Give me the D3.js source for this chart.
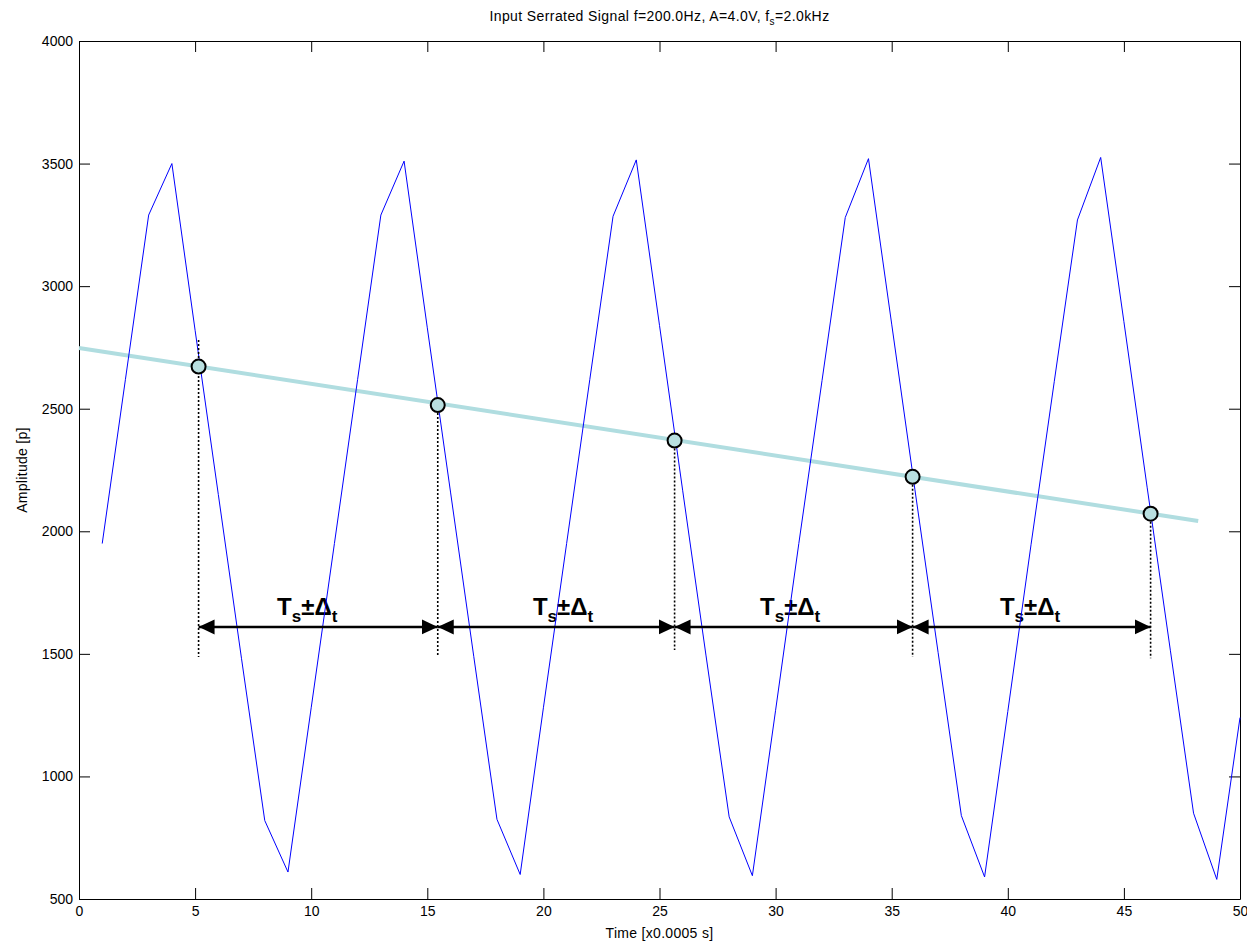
<!DOCTYPE html>
<html>
<head>
<meta charset="utf-8">
<script src="https://cdn.jsdelivr.net/npm/d3@7"></script>
<style>
  body { margin: 0; background: #fff; }
  svg { display: block; font-family: "Liberation Sans", Arial, sans-serif; }
</style>
</head>
<body>
<script>
// sampled serrated signal (sample index, amplitude)
const sampleIdx = [1, 2, 3, 4, 5, 6, 7, 8, 9, 10,
	11, 12, 13, 14, 15, 16, 17, 18, 19, 20,
	21, 22, 23, 24, 25, 26, 27, 28, 29, 30,
	31, 32, 33, 34, 35, 36, 37, 38, 39, 40,
	41, 42, 43, 44, 45, 46, 47, 48, 49, 50];
const amplitude = [1950, 2620, 3290, 3500, 2820, 2150, 1480, 820, 610, 1280,
	1950, 2620, 3290, 3510, 2830, 2160, 1490, 825, 600, 1280,
	1950, 2620, 3285, 3515, 2840, 2165, 1495, 835, 595, 1270,
	1950, 2615, 3280, 3520, 2845, 2170, 1505, 840, 590, 1265,
	1945, 2610, 3270, 3525, 2855, 2180, 1515, 850, 580, 1240];

// trend line through the crossings
const trendX = [0, 48.2];
const trendY = [2748, 2042];

// crossing points
const crossX = [5.15, 15.45, 25.65, 35.9, 46.15];
const crossY = [2672, 2515, 2370, 2222, 2072];

// dotted drop lines: top / bottom values
const dropTop = [2780, 2515, 2370, 2222, 2072];
const dropBottom = [1487, 1487, 1516, 1487, 1482];

// interval arrows
const arrowY = 1610;
const labelX = [8.53, 19.55, 29.33, 39.66];
const labelY = 1658;

const xTicks = [0, 5, 10, 15, 20, 25, 30, 35, 40, 45, 50];
const yTicks = [500, 1000, 1500, 2000, 2500, 3000, 3500, 4000];

function drawChart() {
	// plot box in the page
	let margin = { top: 41, right: 7, bottom: 47, left: 79 },
		width = 1247 - margin.left - margin.right,
		height = 946 - margin.top - margin.bottom;

	let x = d3.scaleLinear().domain([0, 50]).range([0, width]);
	let y = d3.scaleLinear().domain([500, 4000]).range([height, 0]);

	let svg = d3.select("body").append("svg")
		.attr("width", 1247)
		.attr("height", 946);

	let defs = svg.append("defs");
	defs.append("marker")
		.attr("id", "head")
		.attr("markerUnits", "userSpaceOnUse")
		.attr("viewBox", "0 -8 16 16")
		.attr("markerWidth", 16)
		.attr("markerHeight", 16)
		.attr("refX", 16)
		.attr("refY", 0)
		.attr("orient", "auto-start-reverse")
		.append("path")
		.attr("d", "M0,-7.5L16,0L0,7.5Z")
		.attr("fill", "#000");

	let g = svg.append("g")
		.attr("transform", "translate(" + margin.left + "," + margin.top + ")");

	// title
	let title = svg.append("text")
		.attr("x", margin.left + width / 2)
		.attr("y", 21)
		.attr("text-anchor", "middle")
		.style("font-size", "14px")
		.style("letter-spacing", "0.4px");
	title.append("tspan").text("Input Serrated Signal f=200.0Hz, A=4.0V, f");
	title.append("tspan").attr("dy", 4).style("font-size", "10px").text("s");
	title.append("tspan").attr("dy", -4).text("=2.0kHz");

	// axes, MATLAB style box with inward ticks
	let xAxis = g.append("g")
		.attr("transform", "translate(0," + height + ")")
		.call(d3.axisBottom(x).tickValues(xTicks).tickSize(-11).tickSizeOuter(0).tickPadding(7));
	let yAxis = g.append("g")
		.call(d3.axisLeft(y).tickValues(yTicks).tickFormat(d3.format("d")).tickSize(-11).tickSizeOuter(0).tickPadding(6));
	g.append("g")
		.call(d3.axisTop(x).tickValues(xTicks).tickFormat("").tickSize(-11).tickSizeOuter(0));
	g.append("g")
		.attr("transform", "translate(" + width + ",0)")
		.call(d3.axisRight(y).tickValues(yTicks).tickFormat("").tickSize(-11).tickSizeOuter(0));

	g.selectAll(".domain, .tick line").attr("stroke", "#000");
	g.selectAll(".tick text").style("font-size", "14px").attr("fill", "#000")
		.style("font-family", "'Liberation Sans', Arial, sans-serif");

	// axis labels
	svg.append("text")
		.attr("x", margin.left + width / 2)
		.attr("y", 938)
		.attr("text-anchor", "middle")
		.style("font-size", "14px")
		.style("letter-spacing", "0.3px")
		.text("Time [x0.0005 s]");
	svg.append("text")
		.attr("transform", "translate(27," + (margin.top + height / 2) + ") rotate(-90)")
		.attr("text-anchor", "middle")
		.style("font-size", "14px")
		.style("letter-spacing", "0.3px")
		.text("Amplitude [p]");

	// trend line
	let trend = trendX.map((d, i) => ({ t: d, v: trendY[i] }));
	g.append("path")
		.datum(trend)
		.attr("fill", "none")
		.attr("stroke", "#b0dde0")
		.attr("stroke-width", 4)
		.attr("d", d3.line().x((d) => x(d.t)).y((d) => y(d.v)));

	// interval labels
	labelX.forEach((lx) => {
		let t = g.append("text")
			.attr("x", x(lx))
			.attr("y", y(labelY))
			.style("font-size", "24px")
			.style("font-weight", "bold");
		t.append("tspan").text("T");
		t.append("tspan").attr("dy", 7).style("font-size", "17px").text("s");
		t.append("tspan").attr("dy", -7).text("±Δ");
		t.append("tspan").attr("dy", 7).style("font-size", "17px").text("t");
	});

	// signal
	let signal = sampleIdx.map((d, i) => ({ t: d, v: amplitude[i] }));
	g.append("path")
		.datum(signal)
		.attr("fill", "none")
		.attr("stroke", "#0000ff")
		.attr("stroke-width", 1)
		.attr("d", d3.line().x((d) => x(d.t)).y((d) => y(d.v)));

	// dotted drop lines
	g.selectAll(".drop")
		.data(crossX)
		.enter()
		.append("line")
		.attr("x1", (d) => x(d))
		.attr("x2", (d) => x(d))
		.attr("y1", (d, i) => y(dropTop[i]))
		.attr("y2", (d, i) => y(dropBottom[i]))
		.attr("stroke", "#000")
		.attr("stroke-width", 1.6)
		.attr("stroke-dasharray", "2,2");

	// double arrows between crossings
	for (let i = 0; i < crossX.length - 1; i++) {
		g.append("line")
			.attr("x1", x(crossX[i]))
			.attr("x2", x(crossX[i + 1]))
			.attr("y1", y(arrowY))
			.attr("y2", y(arrowY))
			.attr("stroke", "#000")
			.attr("stroke-width", 2.5)
			.attr("marker-start", "url(#head)")
			.attr("marker-end", "url(#head)");
	}

	// crossing circles
	g.selectAll(".cross")
		.data(crossX)
		.enter()
		.append("circle")
		.attr("cx", (d) => x(d))
		.attr("cy", (d, i) => y(crossY[i]))
		.attr("r", 7)
		.attr("fill", "#b9dfe0")
		.attr("stroke", "#000")
		.attr("stroke-width", 2);
}

window.addEventListener("load", drawChart);
</script>
</body>
</html>
